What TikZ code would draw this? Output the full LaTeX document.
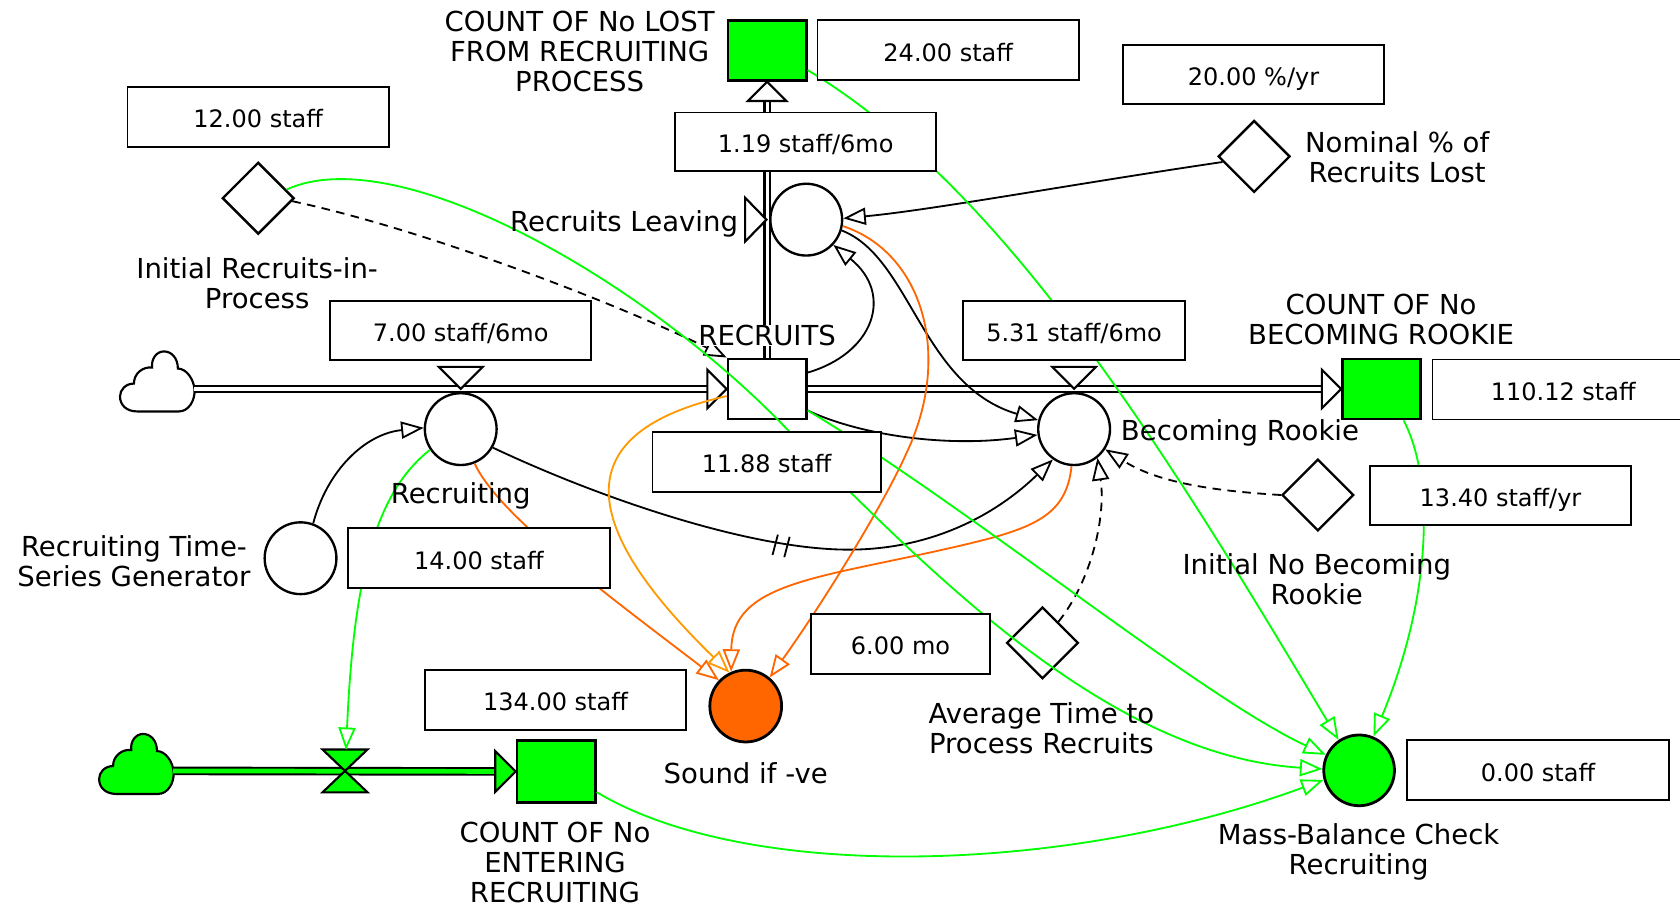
\documentclass[tikz,border=0pt]{standalone}
\usepackage{fontspec}
\setmainfont{DejaVu Sans}
\usetikzlibrary{arrows.meta,shapes.geometric,calc}
\definecolor{vgreen}{HTML}{00FF00}
\definecolor{vorange}{HTML}{FF6600}
\definecolor{vamber}{HTML}{FF9900}
\tikzset{
  cloudpic/.pic={\draw[line width=2pt, pic actions] (16,56) -- (55,56) .. controls (64,56) and (70,46) .. (69.6,36) .. controls (69,26) and (62,16) .. (54,16) .. controls (54,6) and (48,0) .. (41,0) .. controls (34,0) and (29,7) .. (30,15) .. controls (22,14) and (13,20) .. (13,30) .. controls (5,30) and (0,36) .. (0,42) .. controls (0,50) and (6,56) .. (16,56) -- cycle;}
}
\begin{document}
\begin{tikzpicture}[x=1pt,y=-1pt,
  lbl/.style={font=\fontsize{25.7}{28}\selectfont, align=center, inner sep=0pt},
  valbox/.style={draw, line width=1.8pt, fill=white, minimum height=56pt, inner sep=0pt, text height=22pt, text depth=1.6pt, font=\fontsize{22.4}{26}\selectfont},
  stockbox/.style={draw, line width=2.6pt, minimum width=73pt, minimum height=56pt, inner sep=0pt},
  aux/.style={circle, draw, line width=2.2pt, minimum size=67pt, inner sep=0pt, fill=white},
  const/.style={diamond, draw, line width=2.2pt, minimum width=67pt, minimum height=67pt, inner sep=0pt, fill=white},
  conn/.style={line width=1.7pt, -{Triangle[fill=white,length=21pt,width=16pt]}},
  bconn/.style={conn, draw=black},
  gconn/.style={conn, draw=vgreen},
  oconn/.style={conn, draw=vorange},
  aconn/.style={conn, draw=vamber},
  dsh/.style={dash pattern=on 8pt off 6pt},
  pipe/.style={draw=black, line width=2pt, double=white, double distance=3pt},
  gpipe/.style={draw=black, line width=1.8pt, double=vgreen, double distance=4.4pt},
  tipshape/.style={draw=black, line width=2pt, line join=miter}
]
\useasboundingbox (0,0) rectangle (1568,846);
\fill[white] (0,0) rectangle (1568,846);

% clouds
\pic[fill=white] at (112,328) {cloudpic};
\pic[fill=vgreen] at (92.5,685) {cloudpic};
\coordinate (cloudA) at (181,363);
\coordinate (cloudB) at (161.5,719.5);

% auxiliaries and constants
\node[aux] (leaving) at (752.5,205) {};
\node[aux] (recruiting) at (430,400.5) {};
\node[aux] (becoming) at (1002.5,400.5) {};
\node[aux] (rtsg) at (280.5,521) {};
\node[aux, fill=vorange, line width=2.6pt] (sound) at (696,659) {};
\node[aux, fill=vgreen, line width=2.6pt, minimum size=66pt] (massbal) at (1268.5,719) {};
\node[const] (initrec) at (241,185) {};
\node[const] (nominal) at (1170.5,146) {};
\node[const] (initnorookie) at (1230,462) {};
\node[const] (avgtime) at (973,600) {};

% stocks
\node[stockbox, fill=vgreen] (loststock) at (716,47) {};
\node[stockbox, fill=white] (recruits) at (716,363) {};
\node[stockbox, fill=vgreen] (rookie) at (1289.5,363) {};
\node[stockbox, fill=vgreen, minimum height=58pt] (entering) at (519,720) {};

% pipes
\draw[pipe] (cloudA) -- ($(recruits.west)+(-18,0)$);
\draw[pipe] (recruits.east) -- ($(rookie.west)+(-18,0)$);
\draw[pipe] (recruits.north) -- ($(loststock.south)+(0,18)$);
\draw[gpipe] (cloudB) -- ($(entering.west)+(-19,0)$);

% pipe arrowheads
\draw[tipshape, fill=white] (recruits.west) -- ++(-18,-18) -- ++(0,36) -- cycle;
\draw[tipshape, fill=white] (rookie.west) -- ++(-18,-18) -- ++(0,36) -- cycle;
\draw[tipshape, fill=white] (loststock.south) -- ++(-18,18) -- ++(36,0) -- cycle;
\draw[tipshape, fill=vgreen] (entering.west) -- ++(-19,-19) -- ++(0,38) -- cycle;

% valves
\draw[tipshape, fill=white] ($(recruiting.north)+(0,-3)$) -- ++(-20.5,-20.5) -- ++(41,0) -- cycle;
\draw[tipshape, fill=white] ($(becoming.north)+(0,-3)$) -- ++(-20.5,-20.5) -- ++(41,0) -- cycle;
\draw[tipshape, fill=white] ($(leaving.west)+(-2.5,0)$) -- ++(-20,-20.5) -- ++(0,41) -- cycle;
\coordinate (gv) at (322,719.5);
\coordinate (gvtop) at (323,700);
\draw[tipshape, fill=vgreen] (gv) -- ++(-21,-20) -- ++(42,0) -- cycle;
\draw[tipshape, fill=vgreen] (gv) -- ++(-21,20) -- ++(42,0) -- cycle;

% black connectors
\draw[bconn] (nominal.190) .. controls (1000,172) and (870,196) .. (leaving.2);
\draw[bconn] (recruits.22) .. controls (815,330) and (835,275) .. (leaving.-43);
\draw[bconn] (leaving.-17) .. controls (850,240) and (860,360) .. (becoming.166);
\draw[bconn] (recruits.-28) .. controls (800,405) and (880,418) .. (becoming.189);
\draw[bconn] (recruiting.-30) .. controls (560,465) and (700,513) .. (792,513) .. controls (870,513) and (930,480) .. (becoming.235);
\draw[bconn, dsh] (avgtime.53) .. controls (1020,540) and (1032,480) .. (becoming.-51);
\draw[bconn, dsh] (initnorookie.180) .. controls (1130,458) and (1080,450) .. (becoming.-33);
\draw[bconn, dsh] (initrec.-5) .. controls (400,215) and (580,285) .. (recruits.north west);
\draw[bconn] (rtsg.70) .. controls (305,440) and (340,405) .. (recruiting.178);
% delay mark
\draw[line width=1.7pt] (721,518) -- (726,499);
\draw[line width=1.7pt] (732,520) -- (737,501);

% orange connectors
\draw[oconn] (recruiting.-68) .. controls (465,480) and (560,550) .. (sound.136);
\draw[aconn] (recruits.190) .. controls (500,410) and (570,520) .. (sound.116);
\draw[oconn] (leaving.-10) .. controls (860,235) and (890,330) .. (846,423) .. controls (825,470) and (770,560) .. (sound.50);
\draw[oconn] (becoming.266) .. controls (995,485) and (960,495) .. (880,513) .. controls (760,540) and (683,545) .. (sound.113);

% green connectors
\draw[gconn] (loststock.-26) .. controls (936,175) and (1085,415) .. (massbal.124);
\draw[gconn] (initrec.17) .. controls (370,130) and (600,260) .. (735,401) .. controls (860,525) and (1030,705) .. (massbal.178);
\draw[gconn] (recruits.-28) .. controls (900,470) and (1120,650) .. (massbal.155);
\draw[gconn] (rookie.-55) .. controls (1340,450) and (1335,560) .. (massbal.67);
\draw[gconn] (entering.-27) .. controls (700,825) and (1000,815) .. (massbal.195);
\draw[gconn] (recruiting.214) .. controls (350,460) and (330,540) .. (gvtop);

% value boxes
\node[valbox, minimum width=244pt] (v24) at (885,47) {24.00 staff};
\node[valbox, minimum width=244pt, minimum height=55pt] (v20) at (1170,69.5) {20.00 \%/yr};
\node[valbox, minimum width=244pt] (v12) at (241,109) {12.00 staff};
\node[valbox, minimum width=244pt, minimum height=55pt] (v119) at (752,132.5) {1.19 staff/6mo};
\node[valbox, minimum width=244pt, minimum height=55pt] (v700) at (430,308.5) {7.00 staff/6mo};
\node[valbox, minimum width=207pt, minimum height=55pt] (v531) at (1002.5,308.5) {5.31 staff/6mo};
\node[valbox, minimum width=244pt] (v110) at (1459,363.5) {110.12 staff};
\node[valbox, minimum width=213pt] (v1188) at (715.5,431) {11.88 staff};
\node[valbox, minimum width=243pt, minimum height=55pt] (v1340) at (1400.5,462.5) {13.40 staff/yr};
\node[valbox, minimum width=244pt] (v1400) at (447,521) {14.00 staff};
\node[valbox, minimum width=167pt] (v600) at (840.5,601) {6.00 mo};
\node[valbox, minimum width=243pt] (v134) at (518.5,653) {134.00 staff};
\node[valbox, minimum width=245pt] (v000) at (1435.5,719) {0.00 staff};

% labels
\node[lbl] (llost) at (541,48.5) {COUNT OF No LOST\\FROM RECRUITING\\PROCESS};
\node[lbl] (lnominal) at (1304,147) {Nominal \% of\\Recruits Lost};
\node[lbl] (linitrec) at (240,264) {Initial Recruits-in-\\Process};
\node[lbl, anchor=east] (lleaving) at (689,209) {Recruits Leaving};
\node[lbl, fill=white] (lrecruits) at (716,313) {RECRUITS};
\node[lbl] (lrecruiting) at (430,463) {Recruiting};
\node[lbl, anchor=west] (lbecoming) at (1046,404) {Becoming Rookie};
\node[lbl] (lrookie) at (1289,298) {COUNT OF No\\BECOMING ROOKIE};
\node[lbl] (linitno) at (1229,541) {Initial No Becoming\\Rookie};
\node[lbl] (lrtsg) at (125,524) {Recruiting Time-\\Series Generator};
\node[lbl] (lavg) at (972,680) {Average Time to\\Process Recruits};
\node[lbl] (lsound) at (696,722) {Sound if -ve};
\node[lbl] (lentering) at (518,804.5) {COUNT OF No\\ENTERING\\RECRUITING};
\node[lbl] (lmass) at (1268,795) {Mass-Balance Check\\Recruiting};
\end{tikzpicture}
\end{document}
